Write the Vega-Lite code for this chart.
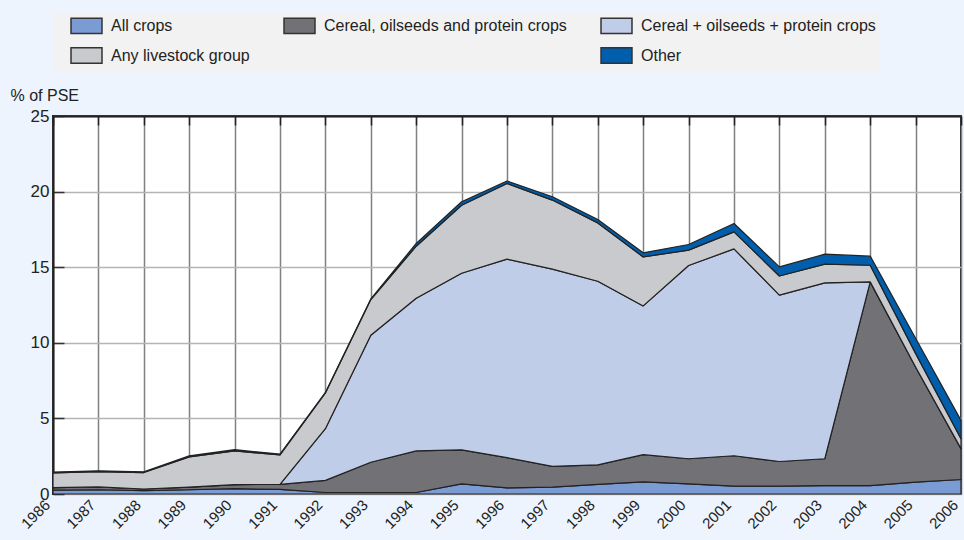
{
  "$schema": "https://vega.github.io/schema/vega-lite/v6.json",
  "width": 908,
  "height": 378,
  "autosize": {"type": "none"},
  "padding": {"left": 53, "top": 116, "right": 3, "bottom": 46},
  "background": "#edf4fd",
  "config": {
    "font": "Liberation Sans",
    "view": {"fill": "#ffffff", "stroke": "#222222", "strokeWidth": 2}
  },
  "data": {
    "values": [
      {"year": 1986, "All crops": 0.25, "Cereal, oilseeds and protein crops": 0.17, "Cereal + oilseeds + protein crops": 0, "Any livestock group": 0.98, "Other": 0.05},
      {"year": 1987, "All crops": 0.28, "Cereal, oilseeds and protein crops": 0.19, "Cereal + oilseeds + protein crops": 0, "Any livestock group": 1.01, "Other": 0.05},
      {"year": 1988, "All crops": 0.22, "Cereal, oilseeds and protein crops": 0.11, "Cereal + oilseeds + protein crops": 0, "Any livestock group": 1.09, "Other": 0.05},
      {"year": 1989, "All crops": 0.28, "Cereal, oilseeds and protein crops": 0.18, "Cereal + oilseeds + protein crops": 0, "Any livestock group": 1.99, "Other": 0.07},
      {"year": 1990, "All crops": 0.35, "Cereal, oilseeds and protein crops": 0.27, "Cereal + oilseeds + protein crops": 0, "Any livestock group": 2.23, "Other": 0.08},
      {"year": 1991, "All crops": 0.3, "Cereal, oilseeds and protein crops": 0.34, "Cereal + oilseeds + protein crops": 0, "Any livestock group": 1.94, "Other": 0.06},
      {"year": 1992, "All crops": 0.1, "Cereal, oilseeds and protein crops": 0.8, "Cereal + oilseeds + protein crops": 3.42, "Any livestock group": 2.36, "Other": 0.04},
      {"year": 1993, "All crops": 0.1, "Cereal, oilseeds and protein crops": 2.0, "Cereal + oilseeds + protein crops": 8.4, "Any livestock group": 2.36, "Other": 0.04},
      {"year": 1994, "All crops": 0.1, "Cereal, oilseeds and protein crops": 2.75, "Cereal + oilseeds + protein crops": 10.1, "Any livestock group": 3.44, "Other": 0.18},
      {"year": 1995, "All crops": 0.67, "Cereal, oilseeds and protein crops": 2.25, "Cereal + oilseeds + protein crops": 11.68, "Any livestock group": 4.5, "Other": 0.23},
      {"year": 1996, "All crops": 0.4, "Cereal, oilseeds and protein crops": 2.0, "Cereal + oilseeds + protein crops": 13.13, "Any livestock group": 5.01, "Other": 0.16},
      {"year": 1997, "All crops": 0.45, "Cereal, oilseeds and protein crops": 1.38, "Cereal + oilseeds + protein crops": 13.04, "Any livestock group": 4.57, "Other": 0.22},
      {"year": 1998, "All crops": 0.63, "Cereal, oilseeds and protein crops": 1.3, "Cereal + oilseeds + protein crops": 12.14, "Any livestock group": 3.86, "Other": 0.23},
      {"year": 1999, "All crops": 0.8, "Cereal, oilseeds and protein crops": 1.8, "Cereal + oilseeds + protein crops": 9.84, "Any livestock group": 3.24, "Other": 0.27},
      {"year": 2000, "All crops": 0.67, "Cereal, oilseeds and protein crops": 1.66, "Cereal + oilseeds + protein crops": 12.78, "Any livestock group": 1.02, "Other": 0.37},
      {"year": 2001, "All crops": 0.52, "Cereal, oilseeds and protein crops": 2.01, "Cereal + oilseeds + protein crops": 13.68, "Any livestock group": 1.13, "Other": 0.55},
      {"year": 2002, "All crops": 0.52, "Cereal, oilseeds and protein crops": 1.63, "Cereal + oilseeds + protein crops": 11.0, "Any livestock group": 1.27, "Other": 0.6},
      {"year": 2003, "All crops": 0.56, "Cereal, oilseeds and protein crops": 1.77, "Cereal + oilseeds + protein crops": 11.63, "Any livestock group": 1.24, "Other": 0.66},
      {"year": 2004, "All crops": 0.56, "Cereal, oilseeds and protein crops": 13.47, "Cereal + oilseeds + protein crops": 0, "Any livestock group": 1.1, "Other": 0.6},
      {"year": 2005, "All crops": 0.78, "Cereal, oilseeds and protein crops": 7.62, "Cereal + oilseeds + protein crops": 0, "Any livestock group": 0.9, "Other": 1.0},
      {"year": 2006, "All crops": 0.96, "Cereal, oilseeds and protein crops": 2.04, "Cereal + oilseeds + protein crops": 0, "Any livestock group": 0.65, "Other": 1.22}
    ]
  },
  "transform": [
    {"fold": ["All crops", "Cereal, oilseeds and protein crops", "Cereal + oilseeds + protein crops", "Any livestock group", "Other"], "as": ["group", "value"]},
    {"calculate": "indexof(['All crops', 'Cereal, oilseeds and protein crops', 'Cereal + oilseeds + protein crops', 'Any livestock group', 'Other'], datum.group)", "as": "ord"}
  ],
  "layer": [
    {
      "mark": {"type": "area", "stroke": "#222222", "strokeWidth": 1.2, "strokeJoin": "round"},
      "encoding": {
        "x": {
          "field": "year", "type": "quantitative",
          "scale": {"domain": [1986, 2006], "nice": false, "zero": false},
          "axis": {
            "title": null, "values": [1986,1987,1988,1989,1990,1991,1992,1993,1994,1995,1996,1997,1998,1999,2000,2001,2002,2003,2004,2005,2006],
            "format": "d", "labelAngle": -45, "labelBaseline": "middle", "labelAlign": "right", "labelFontSize": 15, "labelColor": "#222222", "labelPadding": 8, "labelOffset": -6,
            "grid": true, "gridColor": "#808080", "gridWidth": 1.5, "ticks": false, "domain": false, "labelFlush": false, "labelOverlap": false
          }
        },
        "y": {
          "field": "value", "type": "quantitative", "stack": "zero",
          "scale": {"domain": [0, 25], "nice": false},
          "axis": {
            "title": "% of PSE", "titleAngle": 0, "titleX": -43, "titleY": -16, "titleAlign": "left", "titleBaseline": "alphabetic",
            "titleFontSize": 16, "titleFontWeight": "normal", "titleColor": "#222222",
            "values": [0, 5, 10, 15, 20, 25], "labelFontSize": 17, "labelColor": "#222222", "labelPadding": 15,
            "grid": true, "gridColor": "#b4b4b4", "gridWidth": 1.5,
            "ticks": true, "tickSize": -11, "tickColor": "#333333", "tickWidth": 1.5,
            "domain": true, "domainColor": "#222222", "domainWidth": 2
          }
        },
        "color": {
          "field": "group", "type": "nominal",
          "scale": {
            "domain": ["All crops", "Cereal, oilseeds and protein crops", "Cereal + oilseeds + protein crops", "Any livestock group", " ", "Other"],
            "range": ["#7b9bd4", "#727176", "#c0cde8", "#c9cacd", "rgba(0,0,0,0)", "#005eac"]
          },
          "legend": {
            "title": null, "orient": "none", "legendX": 0, "legendY": -103, "direction": "horizontal", "columns": 3,
            "fillColor": "#f2f2f2", "padding": 4, "columnPadding": 20, "rowPadding": 7,
            "symbolType": "M-2,-1H2V1H-2Z", "symbolSize": 240, "symbolStrokeColor": "#333333", "symbolStrokeWidth": 1.5, "symbolOffset": 21,
            "labelFontSize": 16, "labelColor": "#222222", "labelOffset": 16, "labelLimit": 600,
            "encode": {"symbols": {"update": {"opacity": [{"test": "datum.value === ' '", "value": 0}, {"value": 1}]}}}
          }
        },
        "order": {"field": "ord", "type": "quantitative"}
      }
    },
    {
      "mark": {"type": "rule", "opacity": 0},
      "encoding": {
        "x": {
          "field": "year", "type": "quantitative",
          "axis": {
            "title": null, "values": [1986,1987,1988,1989,1990,1991,1992,1993,1994,1995,1996,1997,1998,1999,2000,2001,2002,2003,2004,2005,2006],
            "labels": false, "grid": false, "ticks": true, "tickSize": -9, "tickColor": "#222222", "tickWidth": 1.5,
            "domain": true, "domainColor": "#222222", "domainWidth": 2, "zindex": 1
          }
        }
      }
    }
  ],
  "resolve": {"axis": {"x": "independent"}}
}
